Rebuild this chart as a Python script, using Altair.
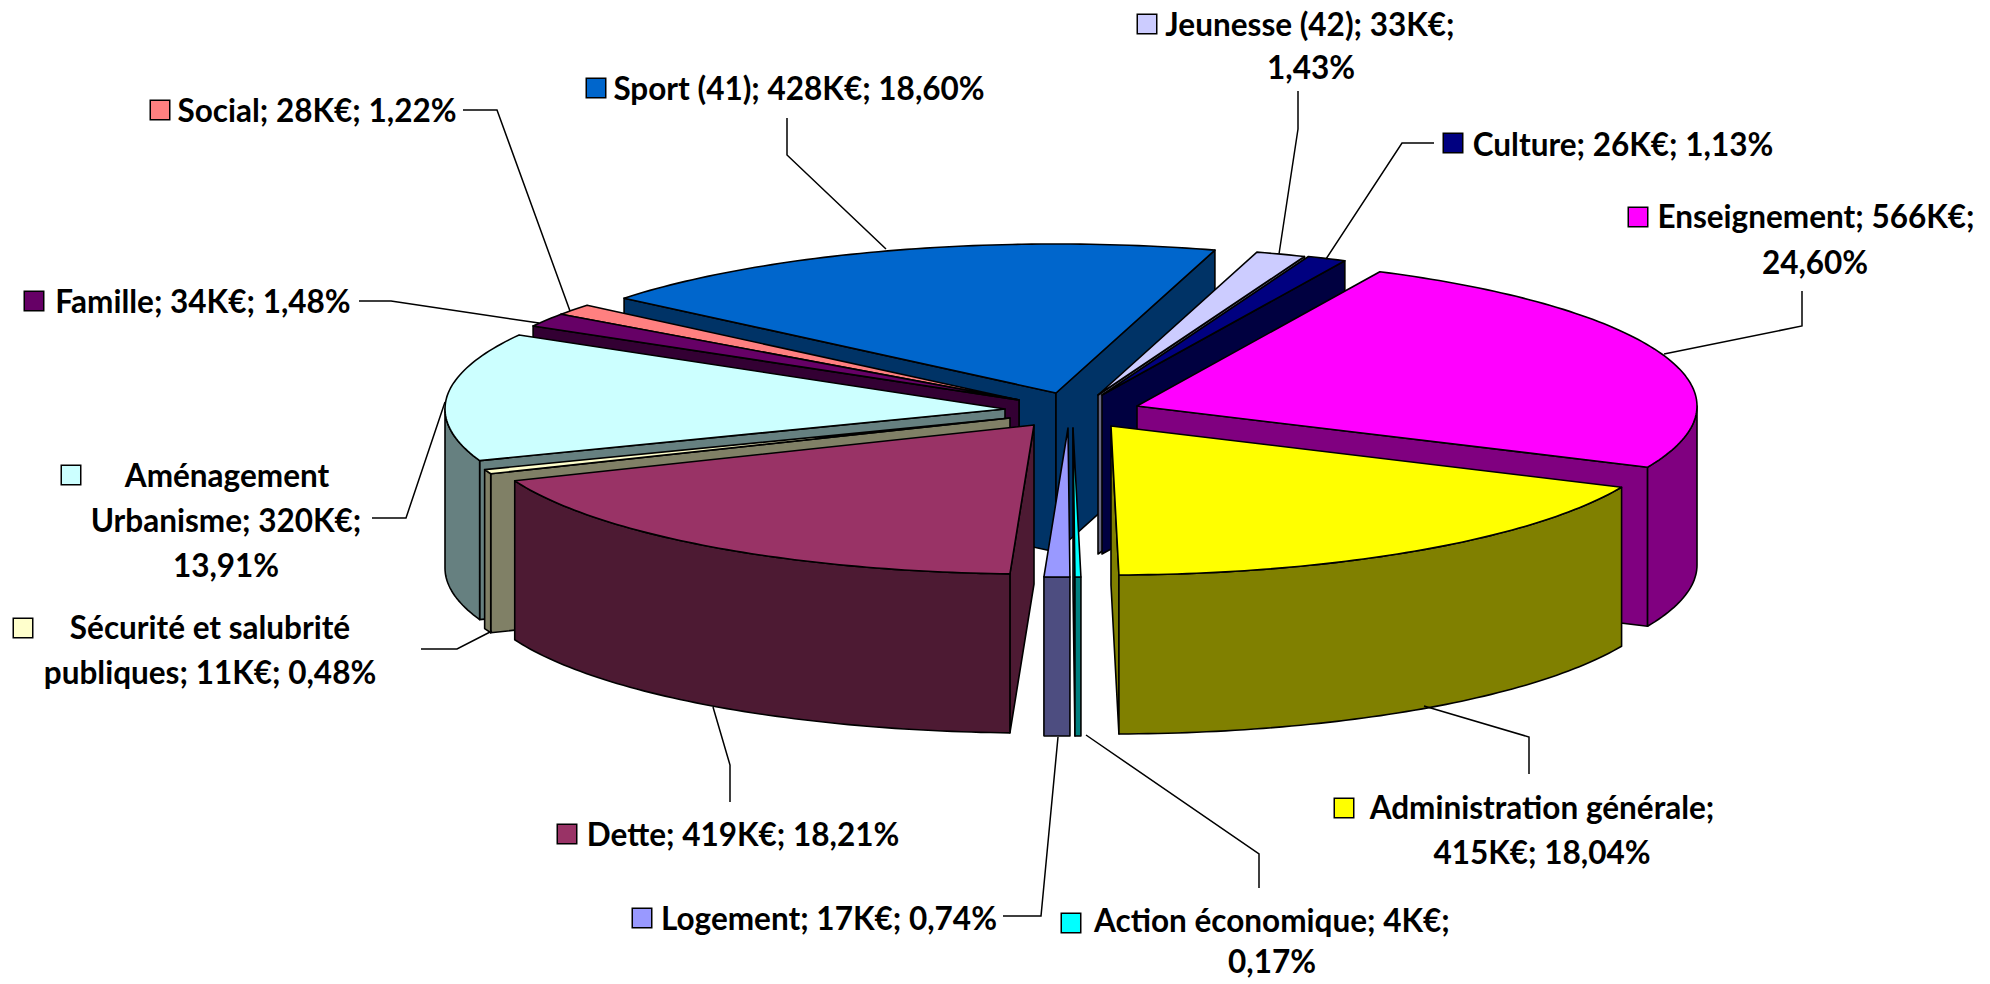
import math
import altair as alt

# ---- data ----
names = ["Enseignement", "Administration générale", "Action économique", "Logement", "Dette",
         "Sécurité et salubrité publiques", "Aménagement Urbanisme", "Famille", "Social",
         "Sport (41)", "Jeunesse (42)", "Culture"]
shares = [24.60, 18.04, 0.17, 0.74, 18.21, 0.48, 13.91, 1.48, 1.22, 18.60, 1.43, 1.13]
top_colors = ["#FF00FF", "#FFFF00", "#00FFFF", "#9999FF", "#993366", "#FFFFCC",
              "#CCFFFF", "#660066", "#FF8080", "#0066CC", "#CCCCFF", "#000080"]
side_colors = ["#800080", "#808000", "#008080", "#4D4D80", "#4D1A33", "#808066",
               "#668080", "#330033", "#804040", "#003366", "#666680", "#000040"]

# ---- layout ----
START = 25.7
RX, RY, DEPTH = 560, 149, 159
apex_x = [1137, 1111, 1073, 1068, 1034, 1010, 1005, 1019, 1019, 1056, 1098, 1102]
apex_y = [406, 426, 428, 428, 425, 418, 409, 400, 400, 393, 395, 395]
paint_order = [9, 8, 7, 6, 5, 4, 10, 11, 0, 1, 3, 2]

label_lines = [
    ("Jeunesse (42); 33K€;", 1310, 27), ("1,43%", 1311, 70),
    ("Culture; 26K€; 1,13%", 1623, 147),
    ("Enseignement; 566K€;", 1816, 219), ("24,60%", 1815, 265),
    ("Administration générale;", 1542, 810), ("415K€; 18,04%", 1542, 855),
    ("Action économique; 4K€;", 1272, 923), ("0,17%", 1272, 964),
    ("Logement; 17K€; 0,74%", 829, 921),
    ("Dette; 419K€; 18,21%", 743, 837),
    ("Sécurité et salubrité", 210, 630), ("publiques; 11K€; 0,48%", 210, 675),
    ("Aménagement", 227, 478), ("Urbanisme; 320K€;", 226, 523), ("13,91%", 226, 568),
    ("Famille; 34K€; 1,48%", 203, 304),
    ("Social; 28K€; 1,22%", 317, 113),
    ("Sport (41); 428K€; 18,60%", 799, 91),
]
key_x = [1638, 1344, 1071, 642, 567, 23, 71, 34, 160, 596, 1147, 1453]
key_y = [217, 808, 923, 918, 834, 628, 475, 301, 110, 88, 24, 143]

leaders = [
    [(1802, 291), (1802, 326), (1664, 354)],
    [(1529, 774), (1529, 737), (1424, 706)],
    [(1259, 888), (1259, 854), (1086, 735)],
    [(1003, 916), (1041, 916), (1058, 737)],
    [(730, 802), (730, 765), (713, 707)],
    [(421, 649), (457, 649), (492, 631)],
    [(372, 518), (406, 518), (445, 402)],
    [(359, 301), (391, 301), (539, 323)],
    [(463, 110), (497, 110), (570, 311)],
    [(787, 118), (787, 155), (886, 249)],
    [(1298, 91), (1298, 129), (1279, 254)],
    [(1434, 143), (1402, 143), (1326, 259)],
]

total = sum(shares)
angles = [START]
for s in shares:
    angles.append(angles[-1] + s / total * 360)


def pt(i, deg, drop=0):
    a = math.radians(deg)
    return [apex_x[i] + RX * math.sin(a), apex_y[i] - RY * math.cos(a) + drop]


def arc(i, a0, a1, drop=0):
    n = max(2, int(abs(a1 - a0)) + 2)
    return [pt(i, a0 + (a1 - a0) * k / (n - 1), drop) for k in range(n)]


def poly(points, color):
    ring = list(points) + [points[0]]
    return {"type": "Feature", "properties": {"fill": color},
            "geometry": {"type": "Polygon", "coordinates": [ring]}}


features = []
for i in paint_order:
    a0, a1 = angles[i], angles[i + 1]
    top, side = top_colors[i], side_colors[i]
    c = [apex_x[i], apex_y[i]]
    cd = [c[0], c[1] + DEPTH]
    if math.sin(math.radians(a0)) < 0:
        p, q = pt(i, a0), pt(i, a0, DEPTH)
        features.append(poly([c, p, q, cd], side))
    if math.sin(math.radians(a1)) > 0:
        p, q = pt(i, a1), pt(i, a1, DEPTH)
        features.append(poly([c, p, q, cd], side))
    for lo, hi in [(90, 270), (450, 630)]:
        v0, v1 = max(a0, lo), min(a1, hi)
        if v1 > v0:
            features.append(poly(arc(i, v0, v1) + arc(i, v1, v0, DEPTH), side))
    features.append(poly([c] + arc(i, a0, a1), top))

leader_features = [
    {"type": "Feature", "properties": {},
     "geometry": {"type": "LineString", "coordinates": [list(p) for p in line]}}
    for line in leaders
]

proj = dict(type="identity", scale=1, translate=[-8, -8])

slices = alt.Chart(alt.Data(values=features)).mark_geoshape(
    stroke="black", strokeWidth=1.6, strokeJoin="round"
).encode(fill=alt.Fill("properties.fill:N", scale=None)).project(**proj)

lead = alt.Chart(alt.Data(values=leader_features)).mark_geoshape(
    filled=False, stroke="black", strokeWidth=1.5
).project(**proj)

keys = alt.Chart(alt.Data(values=[
    {"lon": x, "lat": y, "c": c} for x, y, c in zip(key_x, key_y, top_colors)
])).mark_square(size=380, opacity=1, stroke="black", strokeWidth=1.5).encode(
    longitude="lon:Q", latitude="lat:Q", fill=alt.Fill("c:N", scale=None)
).project(**proj)

text = alt.Chart(alt.Data(values=[
    {"t": t, "lon": x, "lat": y} for t, x, y in label_lines
])).mark_text(font="Lato", fontWeight="bold", fontSize=31.5, color="black",
              align="center", baseline="middle").encode(
    longitude="lon:Q", latitude="lat:Q", text="t:N"
).project(**proj)

chart = alt.layer(slices, lead, keys, text).properties(
    width=1974, height=976, padding={"left": 0, "top": 0, "right": 0, "bottom": 0},
    autosize=alt.AutoSizeParams(type="none"), background="white"
).configure_view(stroke=None)

chart.save("out.html", embed_options={"renderer": "svg", "actions": False})
